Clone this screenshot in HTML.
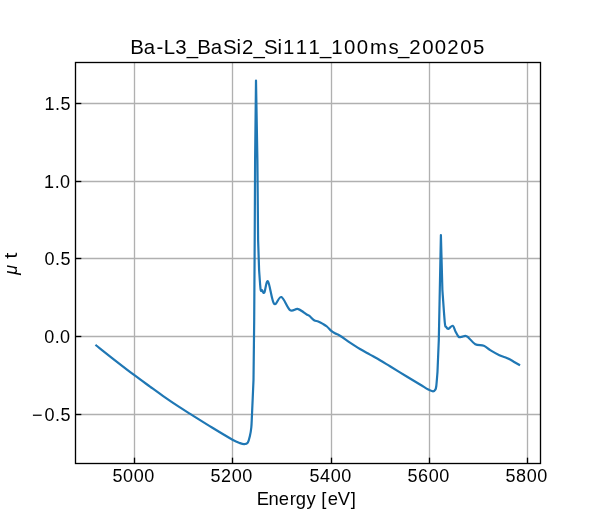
<!DOCTYPE html>
<html><head><meta charset="utf-8"><style>
html,body{margin:0;padding:0;background:#fff;width:600px;height:520px;overflow:hidden}
svg{display:block}
text{font-family:"Liberation Sans",sans-serif;fill:#000}
</style></head><body>
<svg style="will-change:transform" width="600" height="520" viewBox="0 0 600 520">
<rect width="600" height="520" fill="#fff"/>
<g stroke="#b0b0b0" stroke-width="1.33" fill="none"><line x1="134.5" y1="62.5" x2="134.5" y2="463.5"/><line x1="232.5" y1="62.5" x2="232.5" y2="463.5"/><line x1="331.5" y1="62.5" x2="331.5" y2="463.5"/><line x1="429.5" y1="62.5" x2="429.5" y2="463.5"/><line x1="527.5" y1="62.5" x2="527.5" y2="463.5"/><line x1="75.5" y1="103.5" x2="540.5" y2="103.5"/><line x1="75.5" y1="181.5" x2="540.5" y2="181.5"/><line x1="75.5" y1="258.5" x2="540.5" y2="258.5"/><line x1="75.5" y1="336.5" x2="540.5" y2="336.5"/><line x1="75.5" y1="414.5" x2="540.5" y2="414.5"/></g>
<path d="M96.30,345.50 C99.42,347.97 108.65,355.35 115.00,360.30 C121.35,365.25 128.57,370.82 134.40,375.20 C140.23,379.58 144.90,382.90 150.00,386.60 C155.10,390.30 160.33,394.13 165.00,397.40 C169.67,400.67 173.67,403.37 178.00,406.20 C182.33,409.03 185.33,410.85 191.00,414.40 C196.67,417.95 205.08,423.28 212.00,427.50 C218.92,431.72 227.83,437.10 232.50,439.70 C237.17,442.30 238.05,442.37 240.00,443.10 C241.95,443.83 242.90,444.18 244.20,444.10 C245.50,444.02 246.85,443.95 247.80,442.60 C248.75,441.25 249.32,438.52 249.90,436.00 C250.48,433.48 250.95,431.10 251.30,427.50 C251.65,423.90 251.63,422.32 252.00,414.40 C252.37,406.48 253.25,385.73 253.50,380.00 L254.20,320.00 L254.70,240.00 L255.10,160.00 L256.00,80.60 L257.40,160.00 L258.10,240.00 L259.10,270.00 C259.35,273.23 260.12,286.03 260.60,289.40 C261.08,292.77 261.38,289.67 262.00,290.20 C262.62,290.73 263.30,294.07 264.30,292.60 C265.30,291.13 266.37,279.53 268.00,281.40 C269.63,283.27 271.87,301.18 274.10,303.80 C276.33,306.42 278.75,296.05 281.40,297.10 C284.05,298.15 287.32,308.15 290.00,310.10 C292.68,312.05 295.25,308.45 297.50,308.80 C299.75,309.15 301.97,311.25 303.50,312.20 C305.03,313.15 305.72,313.88 306.70,314.50 C307.68,315.12 308.17,314.95 309.40,315.90 C310.63,316.85 312.63,319.27 314.10,320.20 C315.57,321.13 316.73,320.88 318.20,321.50 C319.67,322.12 321.45,323.07 322.90,323.90 C324.35,324.73 325.50,325.33 326.90,326.50 C328.30,327.67 329.95,329.77 331.30,330.90 C332.65,332.03 333.55,332.48 335.00,333.30 C336.45,334.12 337.50,334.25 340.00,335.80 C342.50,337.35 346.67,340.40 350.00,342.60 C353.33,344.80 356.67,347.00 360.00,349.00 C363.33,351.00 366.67,352.73 370.00,354.60 C373.33,356.47 376.67,358.25 380.00,360.20 C383.33,362.15 385.55,363.58 390.00,366.30 C394.45,369.02 401.70,373.47 406.70,376.50 C411.70,379.53 416.40,382.32 420.00,384.50 C423.60,386.68 426.13,388.47 428.30,389.60 C430.47,390.73 431.83,391.30 433.00,391.30 C434.17,391.30 434.75,390.48 435.30,389.60 C435.85,388.72 435.93,388.97 436.30,386.00 C436.67,383.03 437.30,374.17 437.50,371.80 L438.80,340.00 L439.80,290.00 L440.90,235.10 L442.40,290.00 C442.80,295.42 444.17,316.33 444.80,322.50 C445.43,328.67 445.60,325.95 446.20,327.00 C446.80,328.05 447.30,329.00 448.40,328.80 C449.50,328.60 451.62,325.35 452.80,325.80 C453.98,326.25 454.55,329.70 455.50,331.50 C456.45,333.30 457.58,335.68 458.50,336.60 C459.42,337.52 459.87,337.13 461.00,337.00 C462.13,336.87 464.10,335.75 465.30,335.80 C466.50,335.85 466.53,335.90 468.20,337.30 C469.87,338.70 472.70,342.78 475.30,344.20 C477.90,345.62 481.32,344.82 483.80,345.80 C486.28,346.78 487.60,348.53 490.20,350.10 C492.80,351.67 496.65,353.90 499.40,355.20 C502.15,356.50 504.72,357.07 506.70,357.90 C508.68,358.73 509.23,359.05 511.30,360.20 C513.37,361.35 517.80,364.03 519.10,364.80" fill="none" stroke="#1f77b4" stroke-width="2.2" stroke-linejoin="round" stroke-linecap="square"/>
<g stroke="#000" stroke-width="1.33" fill="none"><line x1="134.5" y1="463.5" x2="134.5" y2="457.67"/><line x1="232.5" y1="463.5" x2="232.5" y2="457.67"/><line x1="331.5" y1="463.5" x2="331.5" y2="457.67"/><line x1="429.5" y1="463.5" x2="429.5" y2="457.67"/><line x1="527.5" y1="463.5" x2="527.5" y2="457.67"/><line x1="75.5" y1="103.5" x2="81.33" y2="103.5"/><line x1="75.5" y1="181.5" x2="81.33" y2="181.5"/><line x1="75.5" y1="258.5" x2="81.33" y2="258.5"/><line x1="75.5" y1="336.5" x2="81.33" y2="336.5"/><line x1="75.5" y1="414.5" x2="81.33" y2="414.5"/></g>
<rect x="75.5" y="62.5" width="465.0" height="401.0" fill="none" stroke="#000" stroke-width="1.33" stroke-linejoin="miter"/>
<g font-size="18.0"><text x="112.43 123.10 133.70 144.31" y="481.6">5000</text><text x="210.43 220.88 231.70 242.31" y="481.6">5200</text><text x="309.43 320.10 330.70 341.31" y="481.6">5400</text><text x="407.43 418.10 428.70 439.31" y="481.6">5600</text><text x="505.43 516.10 526.70 537.31" y="481.6">5800</text><text x="44.45 55.00 60.38" y="109.8">1.5</text><text x="44.10 54.65 60.10" y="187.8">1.0</text><text x="44.54 55.00 60.38" y="264.8">0.5</text><text x="44.19 54.65 60.10" y="342.8">0.0</text><text x="32.01 44.54 55.00 60.38" y="420.8">−0.5</text></g>
<text x="130.24 143.65 156.40 163.73 175.26 186.64 197.30 210.71 222.90 236.47 241.92 253.59 263.88 277.44 283.06 295.79 308.51 320.02 331.24 344.06 356.78 370.12 388.55 398.09 409.15 422.14 434.86 447.32 460.31 472.96" y="53.6" font-size="20.4">Ba-L3_BaSi2_Si111_100ms_200205</text>
<text x="256.72 268.40 278.80 289.67 295.65 306.48 316.02 321.33 327.86 337.63 350.84" y="505.1" font-size="18.4">Energy [eV]</text>
<text transform="translate(16.9,269.8) rotate(-90)" font-size="18" text-anchor="middle" font-style="italic">μ</text><text transform="translate(16.7,255.6) rotate(-90) scale(1.25,1.07)" font-size="17.6" text-anchor="middle">t</text>
</svg>
</body></html>
